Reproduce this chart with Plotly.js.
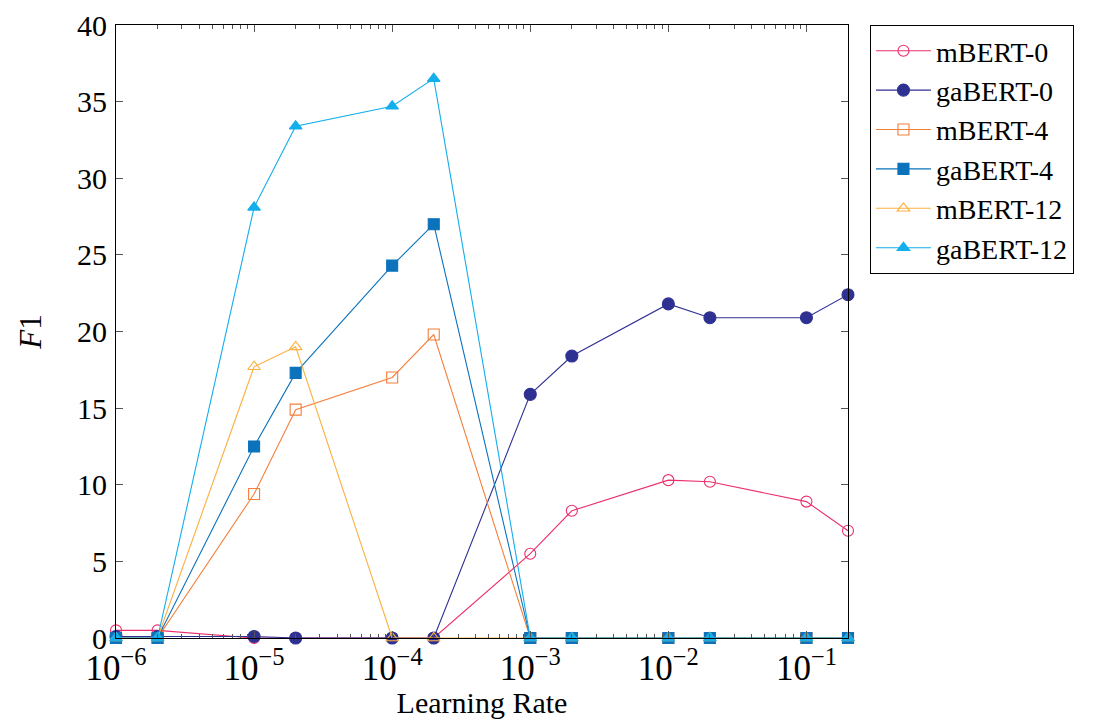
<!DOCTYPE html>
<html>
<head>
<meta charset="utf-8">
<script src="https://cdn.plot.ly/plotly-3.0.1.min.js"></script>
<style>html,body{margin:0;padding:0;background:#fff;}#chart{width:1099px;height:719px;}</style>
</head>
<body>
<div id="chart"></div>
<script>
const learningRates = [1e-6, 2e-6, 1e-5, 2e-5, 1e-4, 2e-4, 1e-3, 2e-3, 1e-2, 2e-2, 1e-1, 2e-1];
const seriesNames = ["mBERT-0", "gaBERT-0", "mBERT-4", "gaBERT-4", "mBERT-12", "gaBERT-12"];
const mBERT0   = [0.5, 0.5, 0.0, 0.0, 0.0, 0.0, 5.5, 8.3, 10.3, 10.2, 8.9, 7.0];
const gaBERT0  = [0.1, 0.1, 0.1, 0.0, 0.0, 0.0, 15.9, 18.4, 21.8, 20.9, 20.9, 22.4];
const mBERT4   = [0.0, 0.0, 9.4, 14.9, 17.0, 19.8, 0.0, 0.0, 0.0, 0.0, 0.0, 0.0];
const gaBERT4  = [0.0, 0.0, 12.5, 17.3, 24.3, 27.0, 0.0, 0.0, 0.0, 0.0, 0.0, 0.0];
const mBERT12  = [0.0, 0.0, 17.7, 19.0, 0.0, 0.0, 0.0, 0.0, 0.0, 0.0, 0.0, 0.0];
const gaBERT12 = [0.0, 0.0, 28.1, 33.4, 34.7, 36.5, 0.0, 0.0, 0.0, 0.0, 0.0, 0.0];
const seriesValues = [mBERT0, gaBERT0, mBERT4, gaBERT4, mBERT12, gaBERT12];

const styles = [
  {color: "#ec2f6b", symbol: "circle-open", size: 11},
  {color: "#2e3192", symbol: "circle", size: 12},
  {color: "#f47f3b", symbol: "square-open", size: 11},
  {color: "#0b72bb", symbol: "square", size: 11},
  {color: "#fbb040", symbol: "triangle-up-open", size: 11},
  {color: "#13aeec", symbol: "triangle-up", size: 11}
];

const traces = seriesNames.map((name, i) => ({
  type: "scatter",
  mode: "lines+markers",
  name: name,
  x: learningRates,
  y: seriesValues[i],
  line: {color: styles[i].color, width: 1.1},
  marker: {color: styles[i].color, symbol: styles[i].symbol, size: styles[i].size,
           line: {color: styles[i].color, width: 1.1}},
  cliponaxis: false
}));

const font = {family: "Liberation Serif, DejaVu Serif, serif", color: "#000"};

const layout = {
  width: 1099, height: 719,
  margin: {l: 116, r: 251, t: 25, b: 81},
  paper_bgcolor: "#fff", plot_bgcolor: "#fff",
  font: Object.assign({}, font, {size: 28}),
  showlegend: true,
  legend: {
    x: 1.030, y: 1, xanchor: "left", yanchor: "top",
    bordercolor: "#000", borderwidth: 1,
    font: Object.assign({}, font, {size: 28}),
    itemwidth: 55, tracegroupgap: 0
  },
  xaxis: {
    type: "log",
    range: [-6, Math.log10(0.2)],
    dtick: 1,
    exponentformat: "power",
    showexponent: "all",
    ticks: "inside", ticklen: 7, tickcolor: "#555", tickwidth: 1,
    mirror: "ticks", showline: true, linecolor: "#000", linewidth: 1,
    showgrid: false, zeroline: false,
    tickfont: Object.assign({}, font, {size: 28}),
    minor: {dtick: "D1", ticks: "inside", ticklen: 4, tickcolor: "#555", tickwidth: 1, showgrid: false},
    title: {text: "Learning Rate", font: Object.assign({}, font, {size: 30}), standoff: 0}
  },
  yaxis: {
    range: [0, 40],
    dtick: 5,
    ticks: "inside", ticklen: 7, tickcolor: "#555", tickwidth: 1,
    mirror: "ticks", showline: true, linecolor: "#000", linewidth: 1,
    showgrid: false, zeroline: false,
    ticklabelstandoff: 2,
    tickfont: Object.assign({}, font, {size: 30}),
    title: {text: "<i>F</i>1", font: Object.assign({}, font, {size: 31}), standoff: 26}
  }
};

Plotly.newPlot("chart", traces, layout, {displayModeBar: false, staticPlot: true});
</script>
</body>
</html>
